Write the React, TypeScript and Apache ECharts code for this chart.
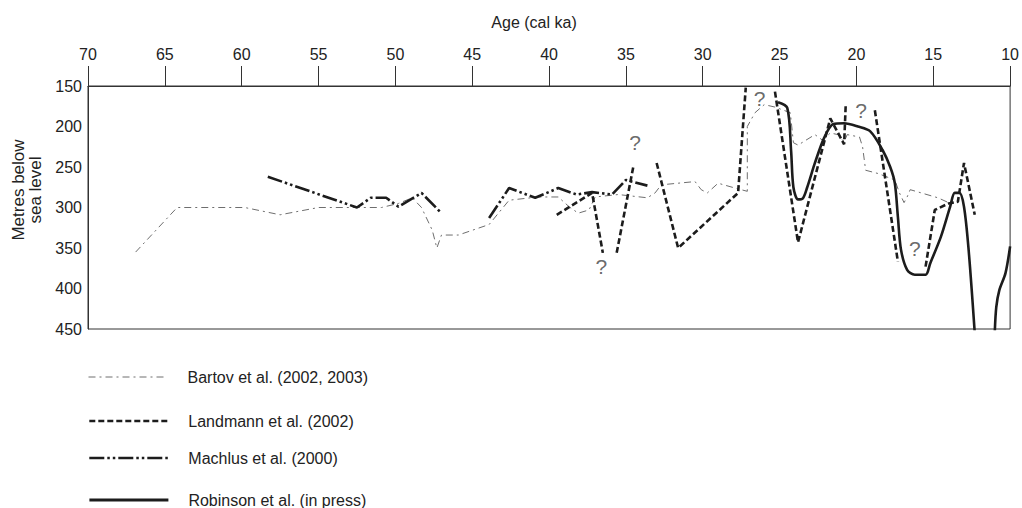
import React, { useEffect, useRef } from "react";
import * as echarts from "echarts";

// Age (cal ka), depth (metres below sea level); "-" marks a break in a curve
const bartov: (number | string)[][] = [
  [66.9, 355], [64.2, 300], [59.8, 300], [57.5, 309], [55, 300], [52.6, 300], [50.9, 300],
  [49.8, 295], [48.9, 288], [48.3, 300], [47.6, 328], [47.3, 350], [47, 334], [45.9, 334],
  [43.9, 321], [42.6, 291], [40.7, 287], [39.4, 287], [38.7, 299], [38.1, 307], [37.4, 303],
  [37, 287], [35.5, 284], [33.6, 288], [33.1, 282], [32.7, 272], [30.5, 268], [30.1, 278],
  [29.7, 282], [29, 270], [27.9, 276], [27.1, 280], [27.1, 200], [26.6, 183], [26, 173],
  [25.3, 176], [24.3, 183], [24.1, 220], [23.8, 223], [22.7, 210], [22.2, 217], [21.7, 208],
  [21.2, 210], [20.8, 219], [20.6, 210], [19.8, 213], [19.6, 225], [19.4, 254], [18.6, 258],
  [17.5, 266], [17.2, 282], [16.9, 294], [16.7, 287], [16.5, 278], [14.7, 288], [14, 294],
  [13.5, 291],
];

const landmann: (number | string)[][] = [
  [39.5, 309], [37.2, 282], [36.5, 356], [36.0, "-"],
  [35.6, 356], [34.5, 248], [33.8, "-"],
  [33, 245], [31.6, 350], [27.7, 282], [27.2, 152], [26.3, "-"],
  [25.3, 157], [23.8, 343], [21.7, 190], [20.8, 222], [20.7, 175], [19.8, "-"],
  [18.8, 180], [17.3, 367], [16.4, "-"],
  [15.5, 373], [14.9, 303], [14, 295], [13.4, 293], [13, 245], [12.3, 309],
];

const machlus: (number | string)[][] = [
  [58.3, 262], [52.5, 300], [51.6, 288], [50.6, 288], [49.8, 299], [48.3, 282], [47, 307],
  [45.5, "-"],
  [43.9, 313], [42.6, 276], [40.9, 288], [39.4, 276], [38.2, 284], [37.2, 281], [35.9, 284],
  [35, 266], [33.6, 273],
];

const robinson: (number | string)[][] = [
  [25.1, 170], [24.5, 177], [24.25, 230], [24.1, 275], [23.8, 290], [23.5, 289], [23.2, 275],
  [22.7, 245], [22.1, 214], [21.5, 197], [20.8, 196], [19.9, 200], [19.1, 206], [18.3, 229],
  [17.8, 250], [17.5, 270], [17.3, 312], [17.1, 352], [16.7, 377], [16.2, 383], [15.5, 383],
  [15.2, 369], [14.5, 336], [13.9, 299], [13.6, 282], [13.3, 282], [13, 299], [12.7, 352],
  [12.3, 455], [11.6, "-"],
  [11, 455], [10.9, 423], [10.7, 402], [10.3, 381], [10, 348],
];

const queries: number[][] = [
  [26.3, 166], [19.7, 180], [34.4, 220], [36.6, 373], [16.2, 350],
];

const seriesNames = [
  "Bartov et al. (2002, 2003)",
  "Landmann et al. (2002)",
  "Machlus et al. (2000)",
  "Robinson et al. (in press)",
];

const FONT = "Arial, 'Liberation Sans', Helvetica, sans-serif";

export default function App() {
  const ref = useRef<HTMLDivElement>(null);
  useEffect(() => {
    if (!ref.current) return;
    const chart = echarts.init(ref.current, undefined, { renderer: "svg" });
    const dark = "#1c1c1c";
    const legendTops = [369, 413, 450, 492];
    const legendWidths = [1, 2.6, 2.6, 2.8];
    chart.setOption({
      animation: false,
      backgroundColor: "#ffffff",
      textStyle: { fontFamily: FONT },
      grid: {
        left: 88, right: 9, top: 86, bottom: 179,
        show: true, borderColor: "#333", borderWidth: 1, backgroundColor: "transparent",
      },
      xAxis: {
        type: "value", position: "top", inverse: true,
        min: 10, max: 70, interval: 5,
        name: "Age (cal ka)", nameLocation: "middle", nameGap: 56,
        nameTextStyle: { fontSize: 16, color: "#222", fontFamily: FONT, padding: [0, 30, 0, 0] },
        axisLine: { show: true, lineStyle: { color: "#333", width: 1 } },
        axisTick: { show: true, length: 20, lineStyle: { color: "#333", width: 1 } },
        axisLabel: { fontSize: 16, color: "#222", margin: 24, fontFamily: FONT },
        splitLine: { show: false },
      },
      yAxis: {
        type: "value", inverse: true,
        min: 150, max: 450, interval: 50,
        axisLine: { show: true, lineStyle: { color: "#333", width: 1 } },
        axisTick: { show: false },
        axisLabel: { fontSize: 16, color: "#222", margin: 6, fontFamily: FONT },
        splitLine: { show: false },
      },
      legend: seriesNames.map((n, i) => ({
        data: [n],
        orient: "vertical",
        left: 88,
        top: legendTops[i],
        padding: 0,
        itemWidth: 79,
        itemHeight: 18,
        selectedMode: false,
        itemStyle: { opacity: 0, borderWidth: 0, color: "transparent" },
        lineStyle: { width: legendWidths[i] },
        textStyle: { fontSize: 16, color: "#222", fontFamily: FONT, padding: [0, 0, 0, 15] },
      })),
      graphic: [
        {
          type: "text",
          x: 27,
          y: 190,
          rotation: Math.PI / 2,
          style: {
            text: "Metres below\nsea level",
            font: `17px ${FONT}`,
            fill: "#222",
            align: "center",
            verticalAlign: "middle",
            lineHeight: 17,
          },
        },
      ],
      series: [
        {
          name: seriesNames[0], type: "line", data: bartov, symbol: "none", showSymbol: false,
          connectNulls: false,
          itemStyle: { color: "#6e6e6e" },
          lineStyle: { color: "#6e6e6e", width: 1, type: [7, 4, 2, 4] },
        },
        {
          name: seriesNames[1], type: "line", data: landmann, symbol: "none", showSymbol: false,
          connectNulls: false,
          itemStyle: { color: dark },
          lineStyle: { color: dark, width: 2.6, type: [6, 3] },
        },
        {
          name: seriesNames[2], type: "line", data: machlus, symbol: "none", showSymbol: false,
          connectNulls: false,
          itemStyle: { color: dark },
          lineStyle: { color: dark, width: 2.6, type: [15, 3, 2.5, 3, 2.5, 3] },
        },
        {
          name: seriesNames[3], type: "line", data: robinson, symbol: "none", showSymbol: false,
          connectNulls: false, smooth: 0.3,
          itemStyle: { color: dark },
          lineStyle: { color: dark, width: 2.6 },
        },
        {
          name: "query", type: "scatter", data: queries, symbolSize: 0,
          itemStyle: { color: "transparent" },
          label: {
            show: true, position: "inside", formatter: "?",
            fontSize: 21, color: "#444", fontFamily: FONT,
          },
          silent: true,
        },
      ],
    });
    return () => chart.dispose();
  }, []);
  return <div ref={ref} style={{ width: 1022, height: 508, position: "absolute", left: 0, top: 0 }} />;
}
